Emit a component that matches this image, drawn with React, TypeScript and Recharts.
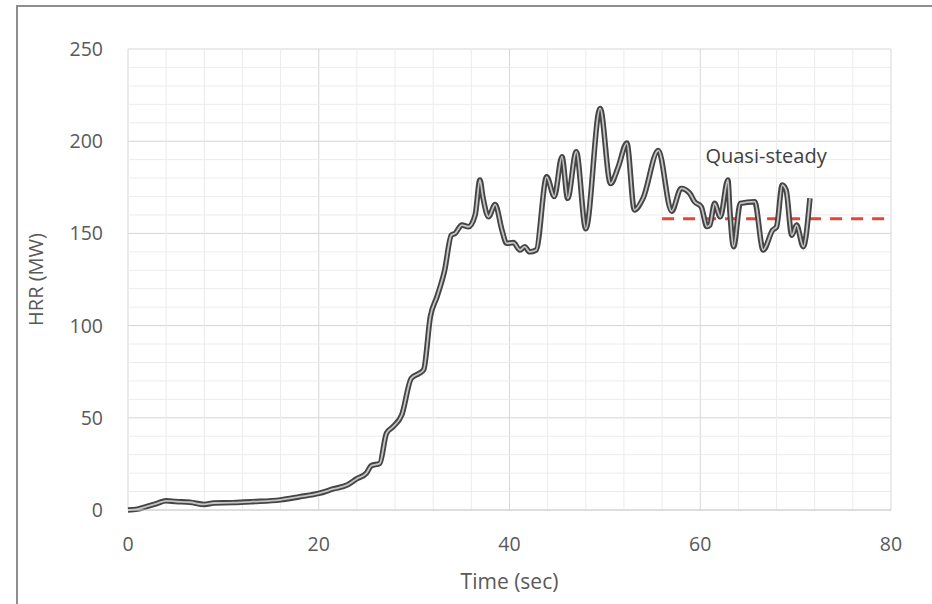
import React from 'react';
import { LineChart, Line, XAxis, YAxis, CartesianGrid, ReferenceLine, ReferenceDot } from 'recharts';

// HRR curve
const timeSec = [
  0, 1, 2, 3, 4, 5, 6.5, 8, 9, 11, 13, 16, 18, 20, 21.5, 23, 24, 25, 25.5, 26.4,
  27.1, 27.8, 28.7, 29.7, 30.5, 31, 31.7, 32.4, 33.2, 33.9, 34.3, 35, 35.7, 36.4, 36.9, 37.2,
  37.8, 38.5, 39.2, 39.7, 40.4, 41.1, 41.6, 42.1, 42.8, 43.9, 44.7, 45.5, 46.1, 47, 48, 49.5,
  50.6, 51.4, 52.3, 53.1, 54, 55.6, 57, 58, 58.9, 59.4, 60.1, 60.7, 61, 61.5, 62.1, 62.9,
  63.1, 63.5, 64.2, 65.7, 66.6, 67.6, 68, 68.6, 69, 69.6, 70.1, 70.8, 71.5,
];
const hrrMW = [
  0, 0.5, 2, 3.5, 5, 4.6, 4.2, 3, 3.8, 4, 4.5, 5.5, 7.2, 9, 11.4, 13.6, 17, 20, 24, 25.3,
  41.6, 45.2, 51.5, 71.4, 74, 76, 104.8, 115.7, 130, 149, 150, 154.5, 153.6, 160, 179, 170,
  159, 165.7, 152, 144.6, 145, 141, 142.8, 140, 141, 180.7, 170, 191.6, 169, 194.3, 152.5, 217.8,
  177, 186, 199, 162.7, 169, 195, 162, 174.4, 171.7, 167.2, 164.5, 153.7, 154.5, 166.3, 159, 179,
  162.7, 142.8, 166.3, 167.2, 141, 151.8, 153.6, 176.2, 173.5, 149, 154.5, 142.8, 169,
];

// quasi-steady level (red dashed)
const steadyTime = [56, 80];
const steadyHrr = [158, 158];

const xTicks = [0, 20, 40, 60, 80];
const yTicks = [0, 50, 100, 150, 200, 250];
const xMinor = [4, 8, 12, 16, 24, 28, 32, 36, 44, 48, 52, 56, 64, 68, 72, 76];
const yMinor = [10, 20, 30, 40, 60, 70, 80, 90, 110, 120, 130, 140, 160, 170, 180, 190, 210, 220, 230, 240];

const hrrData = timeSec.map((t, i) => ({ t, hrr: hrrMW[i] }));
const steadyData = steadyTime.map((t, i) => ({ t, hrr: steadyHrr[i] }));

const font = '"Open Sans", sans-serif';
const tickStyle = { fill: '#595959', fontSize: 19.5, fontFamily: font };

export default function App() {
  return (
    <div style={{ position: 'absolute', left: 0, top: 0, width: 932, height: 604, background: '#fff', overflow: 'hidden' }}>
      <div
        style={{
          position: 'absolute', left: 16, top: 5, right: -4, bottom: -4,
          borderTop: '2px solid #8e8e8e', borderLeft: '2px solid #8e8e8e',
        }}
      />
      <LineChart
        width={932}
        height={604}
        data={hrrData}
        margin={{ top: 49, right: 41, left: 28, bottom: 14 }}
        style={{ fontFamily: font }}
      >
        {xMinor.map(v => (
          <ReferenceLine key={'mx' + v} x={v} stroke="#ececec" strokeWidth={1} />
        ))}
        {yMinor.map(v => (
          <ReferenceLine key={'my' + v} y={v} stroke="#ececec" strokeWidth={1} />
        ))}
        <CartesianGrid stroke="#d6d6d6" />
        <XAxis
          dataKey="t"
          type="number"
          domain={[0, 80]}
          ticks={xTicks}
          height={80}
          tickLine={false}
          tickSize={0}
          tickMargin={27}
          axisLine={{ stroke: '#d0d0d0' }}
          tick={tickStyle}
          label={{ value: 'Time (sec)', position: 'insideBottom', offset: 1, fill: '#595959', fontSize: 21, fontFamily: font }}
        />
        <YAxis
          type="number"
          domain={[0, 250]}
          ticks={yTicks}
          width={100}
          tickLine={false}
          tickSize={0}
          tickMargin={25}
          axisLine={false}
          tick={tickStyle}
          label={{
            value: 'HRR (MW)', angle: -90, position: 'insideLeft', offset: 8,
            fill: '#595959', fontSize: 20, fontFamily: font, style: { textAnchor: 'middle' },
          }}
        />
        <Line
          data={steadyData}
          dataKey="hrr"
          type="linear"
          stroke="#e0463c"
          strokeWidth={3}
          strokeDasharray="12 9"
          dot={false}
          isAnimationActive={false}
        />
        <Line
          dataKey="hrr"
          type="monotone"
          stroke="#444444"
          strokeWidth={5.5}
          dot={false}
          isAnimationActive={false}
        />
        <Line
          dataKey="hrr"
          type="monotone"
          stroke="#c4c4c4"
          strokeWidth={1.8}
          dot={false}
          isAnimationActive={false}
        />
        <ReferenceDot
          x={66.9}
          y={192}
          r={0}
          fill="none"
          stroke="none"
          label={{ value: 'Quasi-steady', position: 'center', fill: '#404040', fontSize: 20, fontFamily: font }}
        />
      </LineChart>
    </div>
  );
}
